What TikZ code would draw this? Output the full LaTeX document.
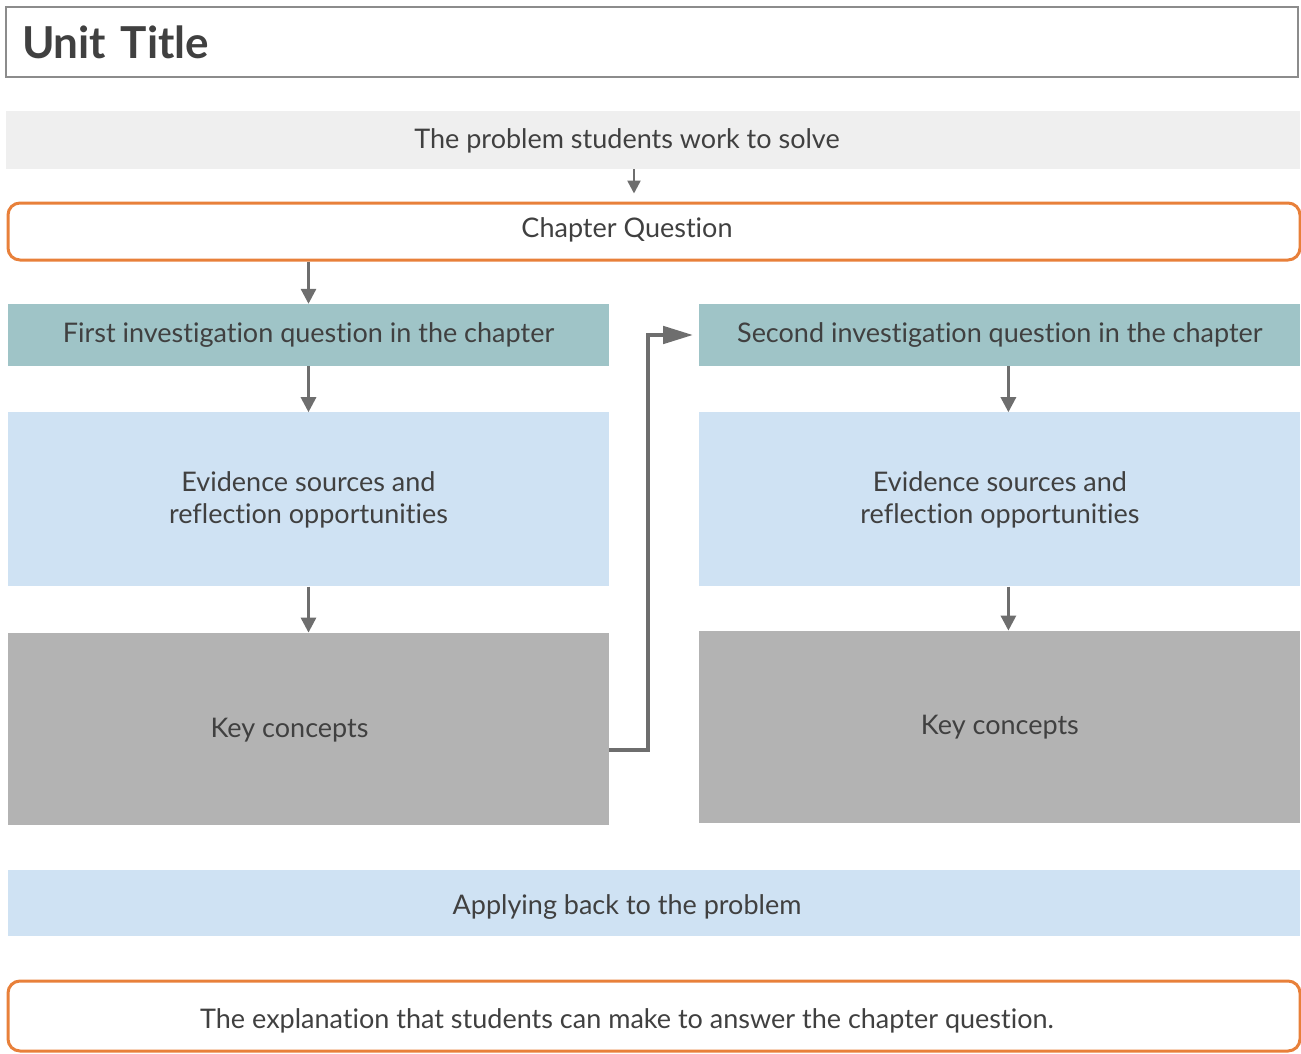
\documentclass[tikz,border=0pt]{standalone}
\usepackage{fontspec}
\setmainfont{Lato}[Ligatures=NoCommon]
\usetikzlibrary{positioning,calc,arrows.meta}

\definecolor{orangeline}{HTML}{E8803A}
\definecolor{tealfill}{HTML}{9FC4C7}
\definecolor{bluefill}{HTML}{CFE2F3}
\definecolor{greyfill}{HTML}{B3B3B3}
\definecolor{paleFill}{HTML}{EFEFEF}
\definecolor{arrowgrey}{HTML}{6E6E6E}
\definecolor{textgrey}{HTML}{404040}

\begin{document}
\begin{tikzpicture}[x=1pt,y=-1pt,
				every node/.style={text=textgrey, font=\fontsize{27}{32}\selectfont},
				titlebox/.style={draw=black!45, line width=1.5pt, minimum height=70pt, text width=1260pt, inner xsep=16pt, align=left, font=\fontsize{44}{50}\selectfont\bfseries},
				problembox/.style={fill=paleFill, minimum width=1294pt, minimum height=58pt},
				questionbox/.style={draw=orangeline, line width=3pt, rounded corners=12pt, minimum width=1292pt},
				invbox/.style={fill=tealfill, minimum width=601pt, minimum height=62pt},
				evidbox/.style={fill=bluefill, minimum width=601pt, minimum height=174pt, align=center},
				keybox/.style={fill=greyfill, minimum width=601pt, minimum height=192pt},
				applybox/.style={fill=bluefill, minimum width=1292pt, minimum height=66pt},
				step arrow/.style={draw=arrowgrey, line width=3pt, -{Triangle[width=15pt,length=15pt]}},
				link/.style={draw=arrowgrey, line width=4.5pt, -{Triangle[width=17pt,length=30pt]}}
			]
			\useasboundingbox (0,0) rectangle (1301,1053);
			\node[titlebox] (unittitle) at (652,42) {\raisebox{-3pt}{Unit Title}};
			\node[problembox, label={[xshift=-26pt,yshift=-1pt]center:The problem students work to solve}] (problem) at (653,140) {};
			\node[questionbox, minimum height=57pt, label={[xshift=-27pt,yshift=2pt]center:Chapter Question}] (chapter) at (654,231.5) {};
			\node[invbox] (first) at (308.5,335) {First investigation question in the chapter};
			\node[invbox] (second) [right=90pt of first] {Second investigation question in the chapter};
			\node[evidbox] (evid1) [below=46pt of first] {Evidence sources and\\reflection opportunities};
			\node[evidbox] (evid2) [below=46pt of second] {Evidence sources and\\reflection opportunities};
			\node[keybox, label={[xshift=-19pt,yshift=-1pt]center:Key concepts}] (key1) [below=46pt of evid1] {};
			\node[keybox] (key2) [below=44pt of evid2] {Key concepts};
			\node[applybox, label={[xshift=-27pt,yshift=-4pt]center:Applying back to the problem}] (apply) at (654,903) {};
			\node[questionbox, minimum height=70pt, label={[xshift=-27pt,yshift=-5pt]center:The explanation that students can make to answer the chapter question.}] (explain) at (654,1016) {};
			\begin{scope}[step arrow]
			\draw[line width=2.5pt, -{Triangle[width=13pt,length=13pt]}] ([xshift=-19pt]problem.south) -- ([xshift=-20pt,yshift=8pt]chapter.north);
			\draw (first.north |- chapter.south) -- (first.north);
			\draw (first.south) -- (evid1.north);
			\draw (evid1.south) -- (key1.north);
			\draw ([xshift=8.5pt]second.south) -- ([xshift=8.5pt]evid2.north);
			\draw ([xshift=8.5pt]evid2.south) -- ([xshift=8.5pt]key2.north);
			\end{scope}
			\draw[link] ($(key1.east)+(0,21)$) -- ++(39,0) |- ([xshift=-6pt]second.west);
			\end{tikzpicture}
\end{document}
